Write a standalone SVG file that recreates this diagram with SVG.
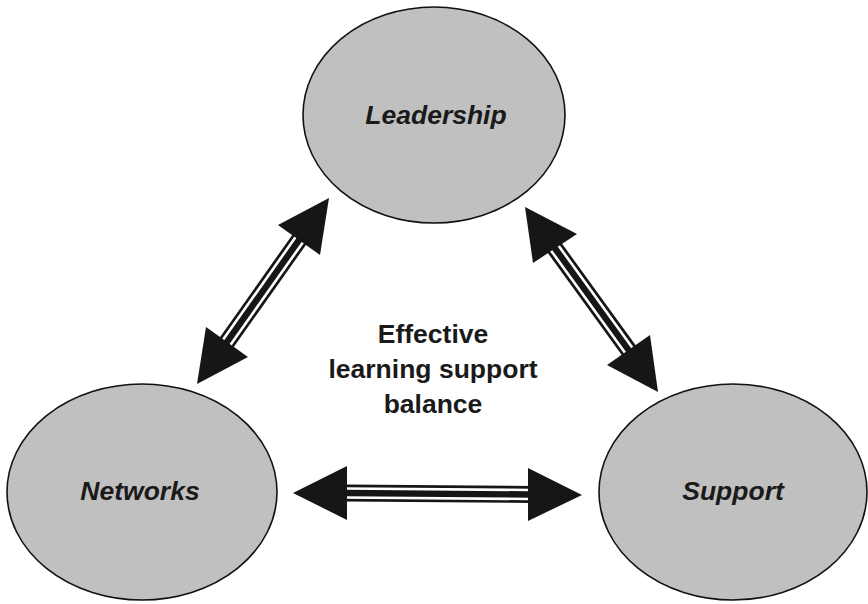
<svg xmlns="http://www.w3.org/2000/svg" width="868" height="604" viewBox="0 0 868 604">
<style>
.node ellipse{fill:#c0c0c0;stroke:#111;stroke-width:1.6}
.lbl{font-family:"Liberation Sans",Arial,sans-serif;font-weight:bold;font-style:italic;font-size:26.5px;fill:#1a1a1a;text-anchor:middle}
.ctr{font-family:"Liberation Sans",Arial,sans-serif;font-weight:bold;font-size:26.5px;fill:#1a1a1a;text-anchor:middle}
.shaft{stroke:#161616;stroke-width:17;fill:none}
.gap{stroke:#fff;stroke-width:2.6;fill:none}
.head{fill:#161616}
</style>
<rect width="868" height="604" fill="#fff"/>
<g id="leadership" class="node">
<ellipse cx="434" cy="115" rx="131" ry="108"/>
<text class="lbl" x="436" y="124">Leadership</text>
</g>
<g id="networks" class="node">
<ellipse cx="142" cy="492" rx="135" ry="108"/>
<text class="lbl" x="140" y="500">Networks</text>
</g>
<g id="support" class="node">
<ellipse cx="733" cy="492" rx="134" ry="108"/>
<text class="lbl" x="733" y="500">Support</text>
</g>
<g id="center-label">
<text class="ctr" x="433" y="343">Effective</text>
<text class="ctr" x="433" y="378">learning support</text>
<text class="ctr" x="433" y="413">balance</text>
</g>
<g id="connectors">
<g id="leadership-networks">
<line class="shaft" x1="225.8" y1="343.6" x2="300.2" y2="238.4"/>
<line class="gap" x1="229.5" y1="346.2" x2="303.9" y2="241"/>
<line class="gap" x1="222.1" y1="341" x2="296.5" y2="235.8"/>
<polygon class="head" points="278,225 320,255 329,198"/>
<polygon class="head" points="206,327 248,357 197,384"/>
</g>
<g id="leadership-support">
<line class="shaft" x1="553.8" y1="246.8" x2="629.7" y2="351.6"/>
<line class="gap" x1="557.5" y1="244.2" x2="633.3" y2="349"/>
<line class="gap" x1="550.2" y1="249.4" x2="626.1" y2="354.2"/>
<polygon class="head" points="533,263 577,234 525,207"/>
<polygon class="head" points="607,365 650,335 658,392"/>
</g>
<g id="networks-support">
<line class="shaft" x1="345" y1="493" x2="530" y2="494.5"/>
<line class="gap" x1="345" y1="488.5" x2="530" y2="490"/>
<line class="gap" x1="345" y1="497.5" x2="530" y2="499"/>
<polygon class="head" points="347,466 347,520 293,493"/>
<polygon class="head" points="528,468 528,521 582,495"/>
</g>
</g>
</svg>
